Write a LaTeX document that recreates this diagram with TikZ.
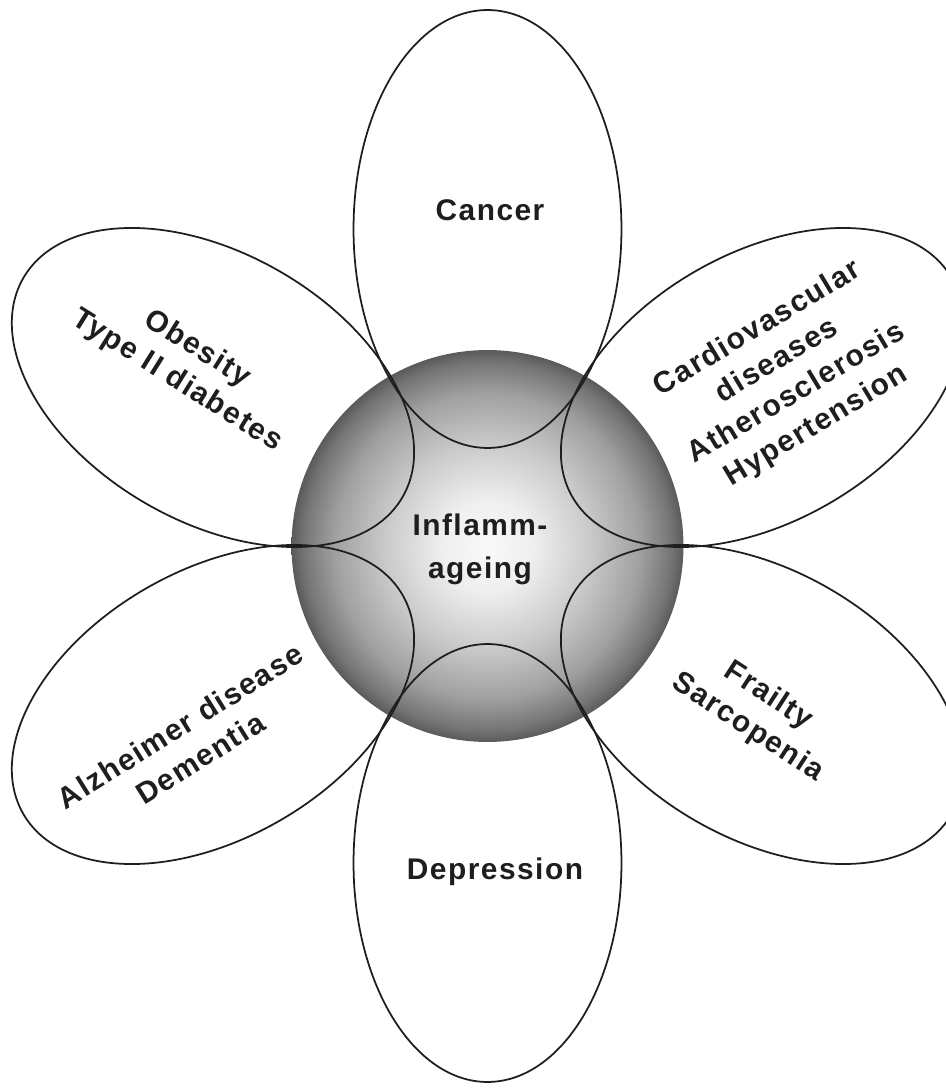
\documentclass[tikz,border=0pt]{standalone}
\usepackage{fontspec}
\setmainfont{Liberation Sans}
\usetikzlibrary{shapes.geometric}

\definecolor{ink}{HTML}{1E1E1E}
\definecolor{orbA}{HTML}{FAFAFA}
\definecolor{orbB}{HTML}{EEEEEE}
\definecolor{orbC}{HTML}{CACACA}
\definecolor{orbD}{HTML}{A0A0A0}
\definecolor{orbE}{HTML}{747474}
\definecolor{orbF}{HTML}{5A5A5A}

% grey ball: light centre, dark rim (the node's edge lies at 25bp)
\pgfdeclareradialshading{orb}{\pgfpoint{0bp}{0bp}}{%
  color(0bp)=(orbA); color(6bp)=(orbB); color(13bp)=(orbC);
  color(19.5bp)=(orbD); color(23.5bp)=(orbE); color(25bp)=(orbF);
  color(50bp)=(orbF)}

\begin{document}
\begin{tikzpicture}[x=0.02cm,y=0.02cm,
  petal/.style={ellipse, draw=ink, line width=1pt, inner sep=0pt,
    minimum width=8.76cm, minimum height=5.36cm},
  label/.style={font=\bfseries\addfontfeatures{LetterSpace=5}\fontsize{17}{21.5}\selectfont,
    text=ink, align=center, inner sep=0pt},
]
\useasboundingbox (-487.5,-542) rectangle (458.5,546);

% central sphere
\node[circle, inner sep=0pt, minimum size=7.84cm, shading=orb] (core) at (0,0) {};

% six petals around the sphere
\node[petal, rotate=90]  (pTop)  at (90:317)  {};
\node[petal, rotate=30]  (pUR)   at (30:317)  {};
\node[petal, rotate=-30] (pLR)   at (-30:317) {};
\node[petal, rotate=-90] (pBot)  at (-90:317) {};
\node[petal, rotate=210] (pLL)   at (210:317) {};
\node[petal, rotate=150] (pUL)   at (150:317) {};

% labels
\node[label] (tCore) at (-7.5,-3) {Inflamm-\\[3pt]ageing};
\node[label] (tTop) at (2.5,336) {Cancer};
\node[label] (tBot) at (7.5,-326) {Depression};
\node[label, rotate=-32] (tUL) at (-300.5,181) {Obesity\\Type II diabetes};
\node[label, rotate=31] (tUR) at (299.5,168.5) {Cardiovascular\\diseases\\Atherosclerosis\\Hypertension};
\node[label, rotate=32] (tLL) at (-297.5,-196) {Alzheimer disease\\Dementia};
\node[label, rotate=-33] (tLR) at (270.5,-166) {Frailty\\Sarcopenia};
\end{tikzpicture}
\end{document}
